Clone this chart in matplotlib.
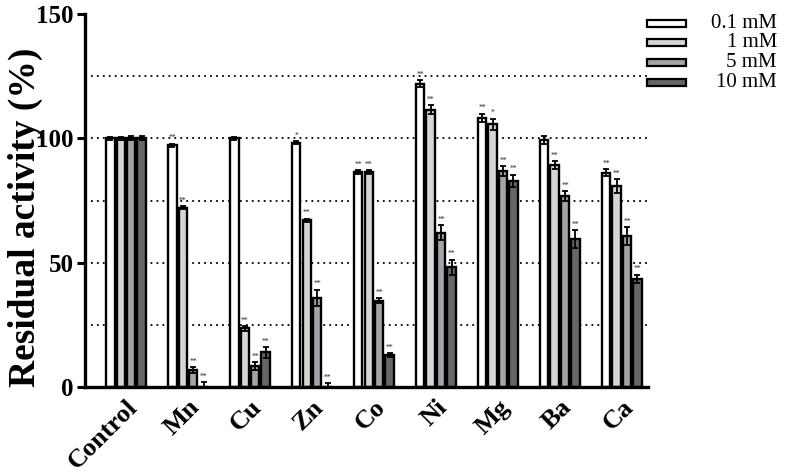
import numpy as np
import matplotlib
matplotlib.use("Agg")
import matplotlib.pyplot as plt
from matplotlib.patches import Rectangle

plt.rcParams['font.family'] = ['Liberation Serif', 'DejaVu Serif']

# data
metals = ["Control", "Mn", "Cu", "Zn", "Co", "Ni", "Mg", "Ba", "Ca"]
conc_labels = ["0.1 mM", "1 mM", "5 mM", "10 mM"]

act_01 = [100, 97.3, 100, 98.3, 86.5, 122.1, 108.3, 99.4, 86.3]
act_1 = [100, 72.1, 23.6, 67.1, 86.5, 111.6, 105.8, 89.3, 80.8]
act_5 = [100, 6.8, 8.3, 36.0, 34.8, 62.0, 86.9, 76.9, 60.8]
act_10 = [100, 0.0, 13.9, 0.0, 12.9, 48.2, 83.0, 59.6, 43.6]

err_01 = [0.5, 0.6, 0.5, 0.6, 0.7, 1.3, 1.6, 1.6, 1.4]
err_1 = [0.5, 0.6, 0.9, 0.6, 0.7, 1.8, 2.2, 1.6, 2.8]
err_5 = [0.8, 1.2, 1.6, 3.2, 0.9, 3.0, 2.0, 2.0, 3.5]
err_10 = [0.8, 2.0, 2.2, 1.6, 0.7, 3.0, 2.4, 3.6, 1.6]

stars_01 = ["", "**", "", "*", "**", "**", "**", "", "**"]
stars_1 = ["", "**", "**", "**", "**", "**", "*", "**", "**"]
stars_5 = ["", "**", "**", "**", "**", "**", "**", "**", "**"]
stars_10 = ["", "**", "**", "**", "**", "**", "**", "**", "**"]

series = [(act_01, err_01, stars_01), (act_1, err_1, stars_1),
          (act_5, err_5, stars_5), (act_10, err_10, stars_10)]
colors = ["#ffffff", "#d6d6d6", "#a4a4a8", "#666666"]

fig = plt.figure(figsize=(7.85, 4.72), dpi=100)
ax = fig.add_axes([0.1083, 0.180, 0.717, 0.790])

x = np.arange(len(metals))
step = 0.168
width = 0.135

for k, (vals, errs, stars) in enumerate(series):
    xs = x + (k - 1.5) * step
    ax.bar(xs, vals, width, color=colors[k], edgecolor="black",
           linewidth=1.7, zorder=2)
    ax.errorbar(xs, vals, yerr=errs, fmt="none", ecolor="black",
                elinewidth=1.3, capsize=2.2, capthick=1.3, zorder=3)
    for xi, v, e, s in zip(xs, vals, errs, stars):
        if s:
            ax.text(xi, v + e + 0.6, s, ha="center", va="bottom",
                    fontsize=5.5, color="#2a2a2a", zorder=4)

for g in [25, 50, 75, 100, 125]:
    ax.axhline(g, color="black", linestyle=(0, (1, 2.3)), linewidth=1.3,
               zorder=1)

ax.set_xlim(-0.661, 8.42)
ax.set_ylim(0, 150)
ax.set_yticks([0, 50, 100, 150])
ax.set_yticklabels(["0", "50", "100", "150"], fontsize=18, fontweight="bold")
ax.set_xticks(x)
ax.set_xticklabels(metals, fontsize=19, fontweight="bold", rotation=45,
                   ha="right", va="top", rotation_mode="anchor")
ax.tick_params(axis="x", length=0, pad=6)
ax.tick_params(axis="y", length=6, width=2.2, pad=2)

for side in ["top", "right"]:
    ax.spines[side].set_visible(False)
for side in ["left", "bottom"]:
    ax.spines[side].set_linewidth(2.4)

ax.set_ylabel("Residual activity (%)", fontsize=27, fontweight="bold")
ax.yaxis.set_label_coords(-0.074, 0.455)

# legend drawn by hand so labels can be right-aligned
W, H = 785.0, 472.0
for k, lab in enumerate(conc_labels):
    yc = 23 + k * 19.7
    fig.patches.append(Rectangle((647 / W, 1 - (yc + 3.5) / H), 39 / W, 7 / H,
                                 transform=fig.transFigure,
                                 facecolor=colors[k], edgecolor="black",
                                 linewidth=1.6))
    fig.text(777 / W, 1 - yc / H, lab, ha="right", va="center", fontsize=15)

fig.savefig("out.png", dpi=100)
